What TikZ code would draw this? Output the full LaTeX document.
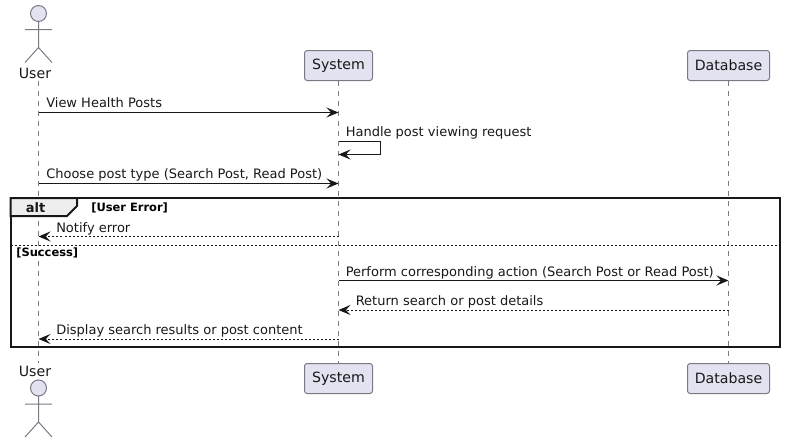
\documentclass[tikz,border=0pt]{standalone}
\usepackage{fontspec}
\setmainfont{DejaVu Sans}
\usetikzlibrary{arrows.meta}
\definecolor{partfill}{HTML}{E2E2F0}
\definecolor{partline}{HTML}{7A7A85}
\definecolor{ink}{HTML}{181818}
\definecolor{tabfill}{HTML}{EEEEEE}
\tikzset{
  x=0.75pt,y=-0.75pt,
  part/.style={draw=partline,fill=partfill,line width=0.75pt,rounded corners=2pt,minimum height=22.5pt,inner xsep=0pt,inner ysep=0pt,text=ink,font=\fontsize{10.6pt}{12pt}\selectfont},
  lifeline/.style={draw=partline,line width=0.6pt,dash pattern=on 3.75pt off 3.75pt},
  actorline/.style={draw=partline,line width=0.75pt},
  actorname/.style={text=ink,inner sep=0pt,font=\fontsize{10.6pt}{12pt}\selectfont},
  msg/.style={draw=ink,line width=0.75pt,-{Stealth[length=9pt,width=7.5pt,inset=3.5pt,fill=ink]}},
  reply/.style={msg,dash pattern=on 1.5pt off 1.5pt},
  lbl/.style={anchor=base west,inner sep=0pt,text=ink,font=\fontsize{9.75pt}{12pt}\selectfont},
  guard/.style={anchor=base west,inner sep=0pt,text=black,font=\bfseries\fontsize{8.6pt}{10pt}\selectfont},
  frameline/.style={draw=ink,line width=1.5pt},
}
\begin{document}
\begin{tikzpicture}
\useasboundingbox (0,0) rectangle (785,443);
% participants
\node[actorname] (userT) at (35,73) {User};
\node[actorname] (userB) at (35,371) {User};
\node[part,minimum width=51pt] (sysT) at (338.5,65.5) {System};
\node[part,minimum width=51pt] (sysB) at (338.5,378.5) {System};
\node[part,minimum width=61.5pt] (dbT) at (728.5,65.5) {Database};
\node[part,minimum width=61.5pt] (dbB) at (728.5,378.5) {Database};
% actors
\coordinate (uL1) at (38.5,81);
\coordinate (uL2) at (38.5,363);
\foreach \hy/\dir in {13.5/1,388/1}{
  \draw[actorline,fill=partfill] (38.5,\hy) circle [radius=6pt];
  \draw[actorline] (38.5,\hy+8) -- (38.5,\hy+34) (25,\hy+16) -- (52,\hy+16)
    (25,\hy+49) -- (38.5,\hy+34) -- (52,\hy+49);
}
% lifelines
\draw[lifeline] (uL1) -- (uL2);
\draw[lifeline] (sysT) -- (sysB);
\draw[lifeline] (dbT) -- (dbB);
% message rows
\coordinate (m1) at (0,112.5);
\coordinate (m2a) at (0,141.5);
\coordinate (m2b) at (0,154.5);
\coordinate (m3) at (0,183.5);
\coordinate (m4) at (0,236.5);
\coordinate (m5) at (0,280.5);
\coordinate (m6) at (0,310);
\coordinate (m7) at (0,339);
\coordinate (selfx) at (380.5,0);
% frame
\draw[frameline] (10.5,198) rectangle (779.5,347);
\node[guard] (gErr) at (91,211) {[User Error]};
\draw[ink,line width=1.5pt,fill=tabfill] (10.5,198) -- (77,198) -- (77,206) -- (67,216) -- (10.5,216) -- cycle;
\node[anchor=base,inner sep=0pt,text=ink,font=\bfseries\fontsize{9.75pt}{12pt}\selectfont] (altl) at (35.5,212) {alt};
\draw[draw=ink,line width=0.75pt,dash pattern=on 1.5pt off 1.5pt] (10.5,245) -- (779.5,245);
\node[guard] (gOk) at (16,256) {[Success]};
% messages
\draw[msg] (uL1 |- m1) -- (sysT |- m1);
\node[lbl] (t1) at (46,107) {View Health Posts};
\draw[msg] (sysT |- m2a) -- (selfx |- m2a) -- (selfx |- m2b) -- (sysT |- m2b);
\node[lbl] (t2) at (345.5,136) {Handle post viewing request};
\draw[msg] (uL1 |- m3) -- (sysT |- m3);
\node[lbl] (t3) at (46,178) {Choose post type (Search Post, Read Post)};
\draw[reply] (sysT |- m4) -- (uL1 |- m4);
\node[lbl] (t4) at (56,232) {Notify error};
\draw[msg] (sysT |- m5) -- (dbT |- m5);
\node[lbl] (t5) at (345.5,276) {Perform corresponding action (Search Post or Read Post)};
\draw[reply] (dbT |- m6) -- (sysT |- m6);
\node[lbl] (t6) at (355.5,305) {Return search or post details};
\draw[reply] (sysT |- m7) -- (uL1 |- m7);
\node[lbl] (t7) at (56,334) {Display search results or post content};
\end{tikzpicture}
\end{document}
